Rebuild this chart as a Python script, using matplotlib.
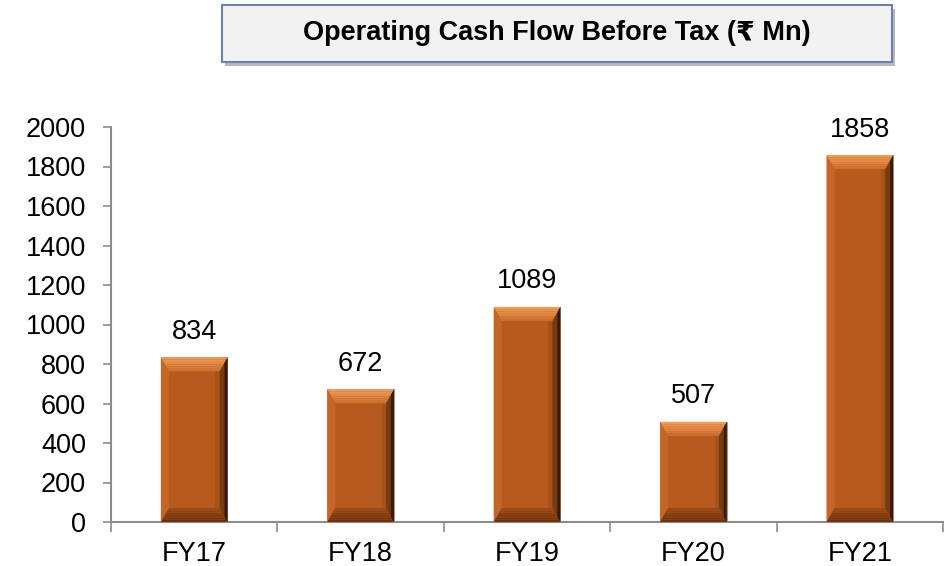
import matplotlib
matplotlib.use("Agg")
import matplotlib.pyplot as plt
from matplotlib.patches import Polygon, Rectangle

categories = ["FY17", "FY18", "FY19", "FY20", "FY21"]
values = [834, 672, 1089, 507, 1858]
yticks = [0, 200, 400, 600, 800, 1000, 1200, 1400, 1600, 1800, 2000]
title = "Operating Cash Flow Before Tax (\u20b9 Mn)"

FONT = ["Liberation Sans", "DejaVu Sans"]
plt.rcParams["font.family"] = FONT

W, H, DPI = 945, 566, 100
fig = plt.figure(figsize=(W / DPI, H / DPI), dpi=DPI)
ax = fig.add_axes([111 / W, 1 - 522 / H, (943 - 111) / W, (522 - 127) / H])

AXIS_GREY = "#8c8c8c"
BAR_MAIN = "#b85a1e"

xs = list(range(len(categories)))
bars = ax.bar(xs, values, width=0.40, color=BAR_MAIN, edgecolor="#9a9a9a",
              linewidth=0.8, zorder=2)

ax.set_xlim(-0.5, len(categories) - 0.5)
ax.set_ylim(0, 2000)
ax.set_yticks(yticks)
ax.set_yticklabels([str(t) for t in yticks], fontsize=19.5)
ax.set_xticks(xs)
ax.set_xticklabels(categories, fontsize=19.5)
ax.tick_params(axis="x", length=0, pad=14)
ax.tick_params(axis="y", length=6, width=1.2, color=AXIS_GREY, pad=12)
# category separator ticks on the x axis
ax.set_xticks([i + 0.5 for i in range(-1, len(categories))], minor=True)
ax.tick_params(axis="x", which="minor", length=7, width=1.2, color=AXIS_GREY)

for side in ("top", "right"):
    ax.spines[side].set_visible(False)
for side in ("left", "bottom"):
    ax.spines[side].set_color(AXIS_GREY)
    ax.spines[side].set_linewidth(1.5)

for b, v in zip(bars, values):
    ax.annotate(str(v), (b.get_x() + b.get_width() / 2, v),
                xytext=(0, 9), textcoords="offset points",
                ha="center", va="bottom", fontsize=19.5)


def face(pts, col):
    fig.patches.append(Polygon(pts, closed=True, facecolor=col, edgecolor="none",
                               transform=None, figure=fig, zorder=3))


# bevelled look for each bar, built from the bar geometry in pixel space
fig.canvas.draw()
bx, by = 8, 14
for b in bars:
    (x0, y0), (x1, y1) = ax.transData.transform(
        [(b.get_x(), 0), (b.get_x() + b.get_width(), b.get_height())])
    face([(x0, y0), (x0, y1), (x0 + bx, y1 - by), (x0 + bx, y0 + by)], "#c4662a")
    face([(x1, y0), (x1, y1), (x1 - bx, y1 - by), (x1 - bx, y0 + by)], "#7a3a10")
    face([(x1 - 3, y0 + 4), (x1 - 3, y1 - 4), (x1, y1), (x1, y0)], "#3e1a04")
    face([(x1 - bx - 4, y0 + by), (x1 - bx, y0 + by),
          (x1 - bx, y1 - by), (x1 - bx - 4, y1 - by)], "#a65219")
    # top face with a light-to-main gradient
    steps = 6
    for k in range(steps):
        t0, t1 = k / steps, (k + 1) / steps
        c = [int(a + (bb - a) * t0) for a, bb in zip((0xf0, 0x9c, 0x55), (0xc8, 0x6a, 0x2c))]
        col = "#%02x%02x%02x" % tuple(c)
        face([(x0 + bx * t0, y1 - by * t0), (x1 - bx * t0, y1 - by * t0),
              (x1 - bx * t1, y1 - by * t1), (x0 + bx * t1, y1 - by * t1)], col)
    # bottom face, darker
    for k in range(steps):
        t0, t1 = k / steps, (k + 1) / steps
        c = [int(a + (bb - a) * t0) for a, bb in zip((0x6e, 0x33, 0x0c), (0xa0, 0x4e, 0x1a))]
        col = "#%02x%02x%02x" % tuple(c)
        face([(x0 + bx * t0, y0 + by * t0), (x1 - bx * t0, y0 + by * t0),
              (x1 - bx * t1, y0 + by * t1), (x0 + bx * t1, y0 + by * t1)], col)

# title banner
tx0, tx1, ty0, ty1 = 222 / W, 892 / W, 1 - 62 / H, 1 - 5 / H
fig.patches.append(Rectangle((tx0 + 3 / W, ty0 - 4 / H), tx1 - tx0, ty1 - ty0,
                             transform=fig.transFigure, facecolor="#b8b8c4",
                             edgecolor="none", zorder=0))
fig.patches.append(Rectangle((tx0, ty0), tx1 - tx0, ty1 - ty0,
                             transform=fig.transFigure, facecolor="#f2f2f2",
                             edgecolor="#7081a8", linewidth=1.5, zorder=1))
fig.text((tx0 + tx1) / 2, (ty0 + ty1) / 2 + 1 / H, title, ha="center", va="center",
         fontsize=19.5, fontweight="bold", family=FONT, zorder=2)

fig.savefig("out.png", dpi=DPI)
